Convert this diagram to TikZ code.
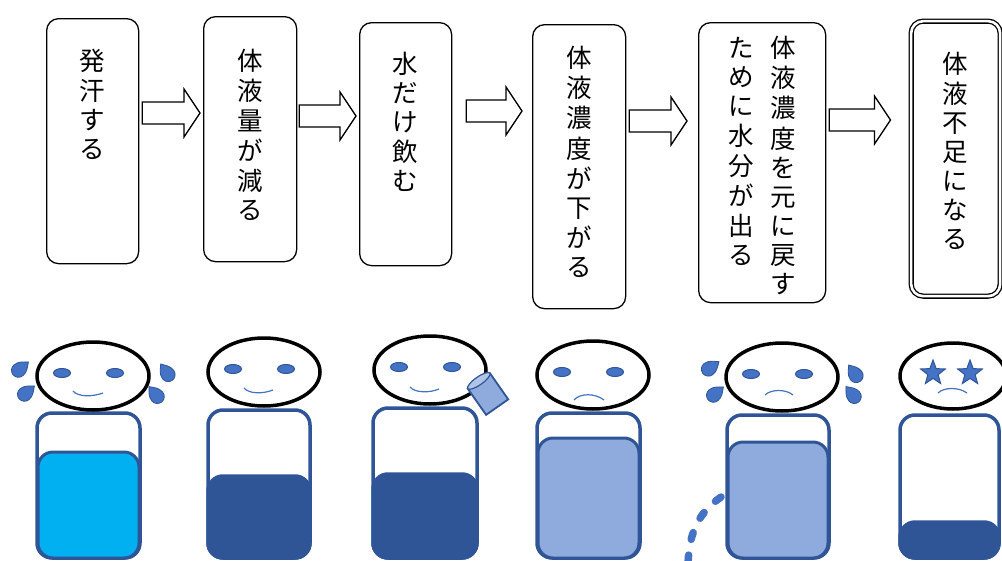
\documentclass[tikz,border=0pt]{standalone}
\usepackage{fontspec}
\newfontfamily\jpfont{Noto Sans CJK JP}
\usetikzlibrary{calc,shapes.geometric}

\definecolor{navy}{HTML}{2F5597}
\definecolor{eyeblue}{HTML}{4472C4}
\definecolor{paleblue}{HTML}{8FAADC}
\definecolor{skyblue}{HTML}{00B0F0}

% one character per row, for vertical writing
\newcommand\tate[1]{\begin{tabular}[t]{@{}c@{}}#1\end{tabular}}

\tikzset{
  stage/.style={draw, line width=1.3pt, rounded corners=12pt, anchor=north west,
    inner sep=0pt, font=\jpfont\fontsize{25.5}{29}\selectfont},
  gapl/.store in=\gapl, gapr/.store in=\gapr, gapl=3pt, gapr=3pt,
  barrow/.style={draw, line width=1.3pt, fill=white,
    to path={let \p1=(\tikztostart), \p2=(\tikztotarget) in
      (\x1+\gapl,\y1+11pt) -- (\x2-\gapr-16pt,\y1+11pt) -- (\x2-\gapr-16pt,\y1+24pt)
      -- (\x2-\gapr,\y1) -- (\x2-\gapr-16pt,\y1-24pt) -- (\x2-\gapr-16pt,\y1-11pt)
      -- (\x1+\gapl,\y1-11pt) -- cycle}},
  head/.style={draw, line width=3.5pt},
  eye/.style={draw=navy, fill=eyeblue, line width=1pt},
  mouth/.style={draw=eyeblue, line width=1.2pt},
  body/.style={draw=navy, line width=3.5pt, rounded corners=15pt},
  sweat/.pic={\filldraw[fill=eyeblue, draw=navy, line width=0.8pt] (11,0) .. controls (7,-3) and (4,-7) .. (-2,-7)
    arc[start angle=-90, end angle=-270, radius=7] .. controls (4,7) and (7,3) .. (11,0) -- cycle;}
}

\begin{document}
\begin{tikzpicture}[x=1pt,y=-1pt]
  \useasboundingbox (0,0) rectangle (1002,560);

  % the chain of steps
  \node[stage, minimum width=92pt, text height=52pt, text depth=193pt] (s1) at (46,18) {\tate{発\\汗\\す\\る}};
  \node[stage, minimum width=93pt, text height=54pt, text depth=191pt] (s2) at (203,16) {\tate{体\\液\\量\\が\\減\\る}};
  \node[stage, minimum width=92pt, text height=51pt, text depth=192pt] (s3) at (359,22) {\tate{水\\だ\\け\\飲\\む}};
  \node[stage, minimum width=93pt, text height=43pt, text depth=241pt] (s4) at (532,24) {\tate{体\\液\\濃\\度\\が\\下\\が\\る}};
  \node[stage, minimum width=127pt, text height=35pt, text depth=245pt] (s5) at (698,22)
    {\tate{た\\め\\に\\水\\分\\が\\出\\る}\hspace{16pt}\tate{体\\液\\濃\\度\\を\\元\\に\\戻\\す}\hspace{8pt}};
  \node[stage, double, double distance=2.6pt, minimum width=89pt, text height=52.5pt, text depth=222.5pt] (s6) at (910.5,20.5)
    {\tate{体\\液\\不\\足\\に\\な\\る}};

  \draw[barrow] (s1.east |- 0,113) to (s2.west |- 0,113);
  \draw[barrow, gapl=2pt] (s2.east |- 0,116) to (s3.west |- 0,116);
  \draw[barrow, gapl=14pt, gapr=10pt] (s3.east |- 0,111) to (s4.west |- 0,111);
  \draw[barrow, gapr=11pt] (s4.east |- 0,121) to (s5.west |- 0,121);
  \draw[barrow, gapr=20pt] (s5.east |- 0,120) to (s6.west |- 0,120);

  % bodies and what is left inside them
  \draw[body] (37,413) rectangle (140,558);
  \filldraw[body, fill=skyblue, line width=3pt] (38,452) rectangle (139,558);
  \draw[body] (208,410) rectangle (310,558);
  \filldraw[body, fill=navy] (208,476) rectangle (310,558);
  \draw[body] (373,408) rectangle (477,558);
  \filldraw[body, fill=navy] (373,474) rectangle (477,558);
  \draw[body] (537,413) rectangle (640,558);
  \filldraw[body, fill=paleblue, line width=3pt] (538,438) rectangle (639,558);
  \draw[body] (727,415) rectangle (829,558);
  \filldraw[body, fill=paleblue, line width=3pt] (728,442) rectangle (828,558);
  \draw[body] (900,415) rectangle (999,558);
  \filldraw[body, fill=navy] (900,522) rectangle (999,558);

  % heads
  \foreach \cx/\cy in {93/376, 264/372, 430/370, 593/375, 782/377} {
    \draw[head] (\cx,\cy) ellipse[x radius=56, y radius=34];
    \filldraw[eye] (\cx-31,\cy-3) ellipse[x radius=8.5, y radius=4.5];
    \filldraw[eye] (\cx+22,\cy-3) ellipse[x radius=8.5, y radius=4.5];
  }
  \draw[head] (953,376) ellipse[x radius=53, y radius=33];
  \node[star, star points=5, star point ratio=2.4, fill=eyeblue, draw=navy, line width=1pt,
    minimum size=26pt, inner sep=0pt] (st1) at (933,373) {};
  \node[star, star points=5, star point ratio=2.4, fill=eyeblue, draw=navy, line width=1pt,
    minimum size=26pt, inner sep=0pt] (st2) at (970,373) {};

  % mouths
  \draw[mouth] (73,391) .. controls (78,397) and (92,397) .. (103,393);
  \draw[mouth] (244,388) .. controls (249,394) and (263,394) .. (273,390);
  \draw[mouth] (410,387) .. controls (415,393) and (430,393) .. (439,389);
  \draw[mouth] (574,400) .. controls (580,393) and (595,393) .. (604,400);
  \draw[mouth] (765,395) .. controls (771,389) and (786,389) .. (793,395);
  \draw[mouth] (938,393) .. controls (944,387) and (959,387) .. (967,393);

  % sweat
  \pic[rotate=40] at (20,369) {sweat};
  \pic[rotate=40] at (26,393) {sweat};
  \pic[rotate=125] at (167,373) {sweat};
  \pic[rotate=130] at (156,395) {sweat};
  \pic[rotate=35] at (710,368) {sweat};
  \pic[rotate=40] at (715,394) {sweat};
  \pic[rotate=125] at (855,374) {sweat};
  \pic[rotate=130] at (853,395) {sweat};
  \draw[eyeblue, line width=7.5pt, line cap=round, dash pattern=on 7pt off 16pt]
    (721,497) .. controls (700,512) and (689,530) .. (688,565);

  % the cup
  \begin{scope}[shift={(488,394)}, rotate=35]
    \filldraw[fill=paleblue, draw=navy, line width=1.8pt] (-13.5,-16) rectangle (13.5,16);
    \filldraw[fill=paleblue!70!white, draw=navy, line width=1.2pt] (0,-16) ellipse[x radius=13.5, y radius=4];
  \end{scope}
\end{tikzpicture}
\end{document}
